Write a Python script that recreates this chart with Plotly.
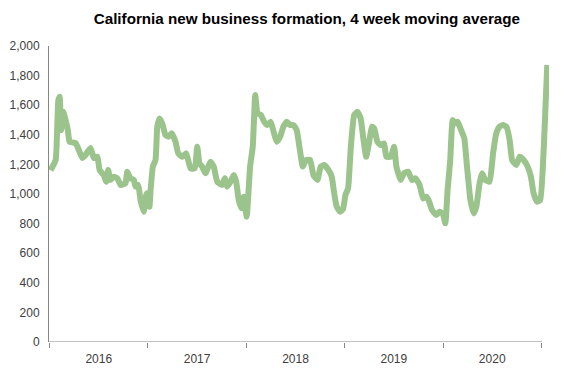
import plotly.graph_objects as go

# Week index since start of 2016 (approximate) and 4-week moving average values
weeks = [0.5, 3.2, 4.6, 5.3, 6.1, 7.2, 8.4, 9.6, 10.5, 13.7, 15.4, 17.2, 18.9, 21.5, 23.3, 25.1,
         26.3, 28.5, 29.8, 30.8, 32.0, 33.8, 35.6, 37.3, 39.9, 40.8, 42.5, 44.3, 45.2, 46.6, 47.8,
         49.5, 50.8, 51.3, 52.5, 53.1, 54.3, 55.7, 56.6, 57.8, 59.2, 60.9, 62.4, 64.1, 66.2, 67.6,
         69.7, 71.8, 74.1, 76.3, 77.6, 78.8, 80.2, 81.9, 84.6, 86.3, 88.1, 90.7, 92.1, 93.3, 95.1,
         96.8, 98.1, 99.4, 100.9, 102.1, 103.6, 105.4, 106.8, 108.1, 109.3, 111.0, 112.8, 114.5,
         116.2, 118.0, 119.4, 121.2, 122.9, 124.7, 126.4, 128.2, 129.9, 131.3, 133.1, 134.8, 136.9,
         138.7, 140.8, 142.5, 144.3, 146.6, 148.3, 149.6, 150.9, 152.7, 154.3, 155.5, 156.9, 158.3,
         160.1, 161.8, 163.5, 164.9, 166.4, 167.7, 169.5, 170.6, 172.3, 174.0, 175.8, 177.0, 179.3,
         181.1, 182.3, 184.5, 186.3, 188.4, 190.5, 192.3, 194.5, 196.3, 198.0, 199.2, 201.0, 203.3,
         205.0, 206.6, 208.0, 209.2, 210.6, 211.9, 213.3, 214.5, 216.3, 218.0, 219.4, 221.2, 222.9,
         224.3, 226.0, 227.3, 229.0, 231.3, 233.1, 234.8, 236.5, 238.3, 240.1, 241.8, 243.1, 245.3,
         247.1, 249.2, 251.3, 253.0, 254.4, 256.2, 257.9, 259.7, 260.8, 261.6]
values = [1160, 1230, 1635, 1657, 1432, 1556, 1500, 1432, 1353, 1344, 1297, 1243, 1264, 1311, 1243, 1252,
          1162, 1128, 1083, 1162, 1095, 1117, 1106, 1061, 1072, 1151, 1106, 1095, 1050, 1061, 959,
          880, 993, 1005, 914, 1027, 1185, 1230, 1455, 1511, 1478, 1399, 1387, 1410, 1353, 1275,
          1252, 1275, 1173, 1173, 1320, 1207, 1185, 1140, 1218, 1185, 1083, 1061, 1106, 1050, 1083,
          1128, 1083, 959, 903, 982, 847, 1185, 1320, 1669, 1545, 1534, 1489, 1466,
          1489, 1410, 1353, 1387, 1455, 1489, 1466, 1466, 1432, 1320, 1185, 1230, 1230,
          1128, 1095, 1185, 1196, 1162, 1117, 1005, 914, 880, 900, 993, 1038, 1309,
          1534, 1556, 1511, 1376, 1252, 1331, 1455, 1444, 1353, 1331, 1342, 1252, 1252,
          1320, 1185, 1095, 1140, 1151, 1095, 1106, 1061, 970, 982, 959, 892, 858,
          880, 870, 802, 1027, 1230, 1500, 1478, 1489, 1432, 1376, 1185, 959, 869,
          914, 1072, 1140, 1095, 1083, 1275, 1410, 1455, 1466, 1455, 1365, 1230, 1196,
          1252, 1230, 1185, 1117, 1005, 948, 959, 1297, 1635, 1872]

years = ["2016", "2017", "2018", "2019", "2020"]
year_len = 51.7  # chart units per year
year_starts = [i * year_len for i in range(len(years) + 1)]
year_mids = [(i + 0.5) * year_len for i in range(len(years))]

y_ticks = list(range(0, 2001, 200))

fig = go.Figure()
fig.add_trace(go.Scatter(
    x=weeks, y=values, mode="lines",
    line=dict(color="#9bc38c", width=6, shape="spline", smoothing=0.4),
    hoverinfo="skip", showlegend=False,
))

fig.update_layout(
    width=561, height=373,
    margin=dict(l=49, r=12, t=46, b=31, autoexpand=False),
    paper_bgcolor="white", plot_bgcolor="white",
    title=dict(text="<b>California new business formation, 4 week moving average</b>",
               x=0.547, xanchor="center", y=1 - 19 / 373, yanchor="middle",
               font=dict(family="Liberation Sans, Arial, sans-serif", size=15.2, color="#000000")),
    font=dict(family="Liberation Sans, Arial, sans-serif", size=12, color="#404040"),
)

fig.update_xaxes(
    range=[-0.3, 262.5], automargin=False,
    showgrid=False, zeroline=False, showline=False,
    tickmode="array", tickvals=year_mids, ticktext=years, ticks="",
    ticklabelstandoff=8,
    tickfont=dict(size=12, color="#404040"),
    minor=dict(tickmode="array", tickvals=year_starts, ticks="outside", ticklen=5,
               tickcolor="#868686", tickwidth=1, showgrid=False),
    fixedrange=True,
)
fig.update_yaxes(
    range=[0, 2000], automargin=False,
    showgrid=False, zeroline=False,
    showline=True, linecolor="#868686", linewidth=1,
    tickmode="array", tickvals=y_ticks, tickformat=",d", ticks="",
    ticklabelstandoff=6,
    tickfont=dict(size=12, color="#404040"),
    fixedrange=True,
)

# x-axis baseline ending at the last year boundary
fig.add_shape(type="line", xref="x", yref="y", x0=-0.3, x1=year_starts[-1] + 0.3, y0=0, y1=0,
              line=dict(color="#868686", width=1), layer="above")

fig.write_html("out.html", config={"displayModeBar": False},
               post_script="document.body.style.margin='0';document.body.style.overflow='hidden';")
